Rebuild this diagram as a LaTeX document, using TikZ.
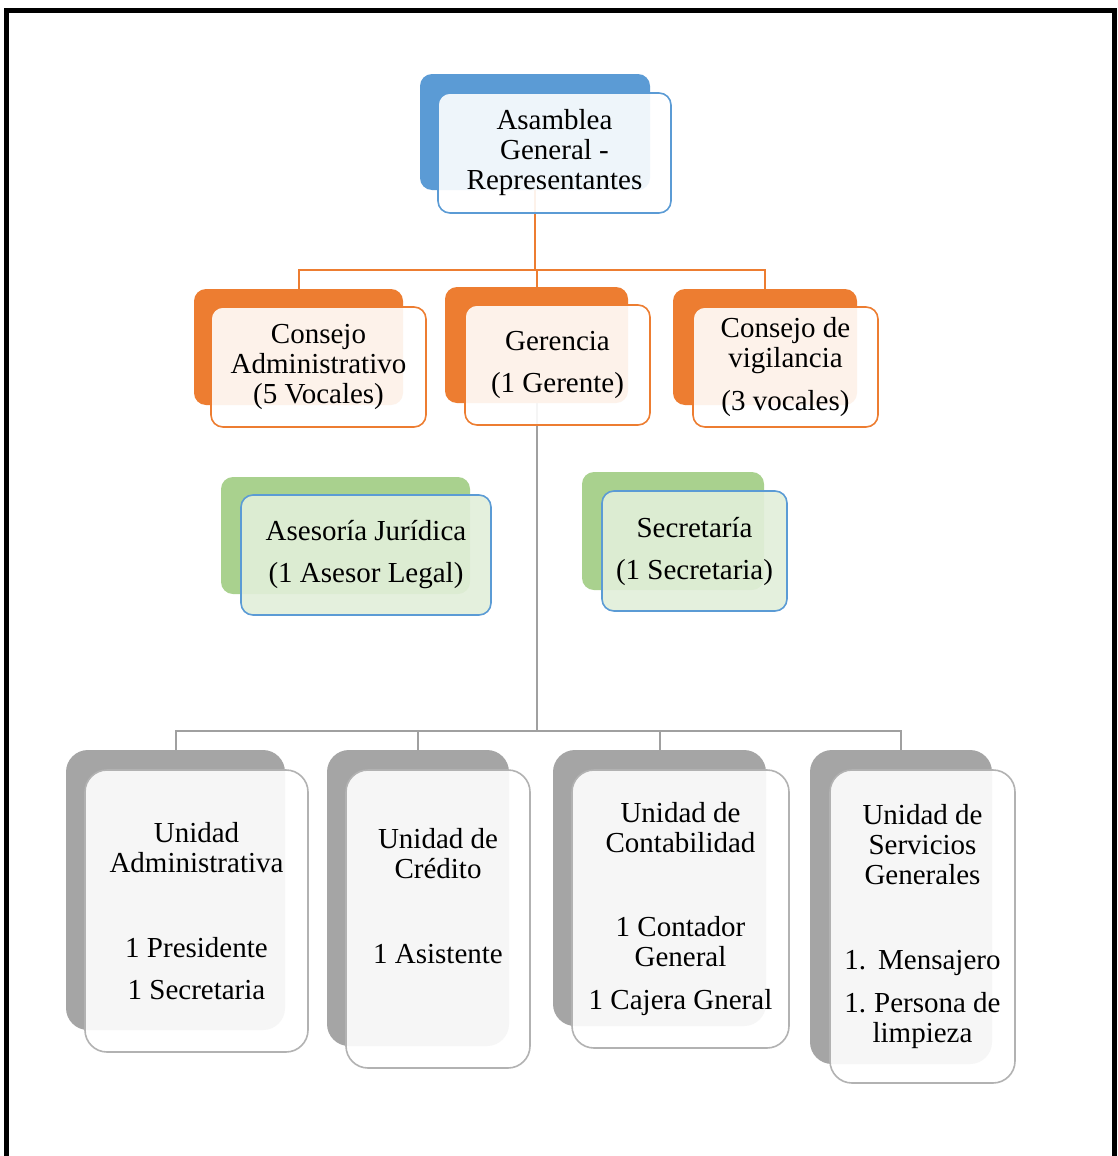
\documentclass[tikz,border=0pt]{standalone}
\usepackage{fontspec}
\setmainfont{Liberation Serif}
\usetikzlibrary{backgrounds}
\definecolor{cblue}{HTML}{5B9BD5}
\definecolor{corange}{HTML}{ED7D31}
\definecolor{cgreen}{HTML}{A9D18E}
\definecolor{cgreenlt}{HTML}{E2EFDA}
\definecolor{cgray}{HTML}{A5A5A5}
\definecolor{cgrayline}{HTML}{A0A0A0}
\tikzset{
  every node/.style={inner sep=0pt, align=center, font=\fontsize{29}{30}\selectfont},
  backbox/.style={rectangle, rounded corners=12pt, draw=none},
  frontbox/.style={rectangle, rounded corners=12pt, line width=1.6pt, fill=white, fill opacity=0.9, text opacity=1},
  tallback/.style={backbox, rounded corners=22pt},
  tallfront/.style={frontbox, rounded corners=22pt},
  blueback/.style={backbox, fill=cblue},
  bluefront/.style={frontbox, draw=cblue},
  orangeback/.style={backbox, fill=corange},
  orangefront/.style={frontbox, draw=corange},
  greenback/.style={backbox, fill=cgreen},
  greenfront/.style={frontbox, draw=cblue, fill=cgreenlt},
  grayback/.style={tallback, fill=cgray},
  grayfront/.style={tallfront, draw=cgray!85},
  orangeline/.style={draw=corange, line width=2pt},
  grayline/.style={draw=cgrayline, line width=2pt},
}
\begin{document}
\begin{tikzpicture}[x=1pt, y=-1pt]
\useasboundingbox (0,0) rectangle (1118,1156);

% outer frame, open at the bottom
\draw[line width=5pt] (6,1170) -- (6,11) -- (1114,11) -- (1114,1170);

% top level
\node[blueback, minimum width=230pt, minimum height=116pt] (asm-b) at (535,132) {};
\node[bluefront, minimum width=233pt, minimum height=120pt] (asm) at (554.5,153)
  {Asamblea\\General -\\Representantes};

% second level
\node[orangeback, minimum width=209pt, minimum height=116pt] (cad-b) at (298.5,347) {};
\node[orangefront, minimum width=215pt, minimum height=120pt] (cad) at (318.5,367)
  {Consejo\\Administrativo\\(5 Vocales)};

\node[orangeback, minimum width=183pt, minimum height=116pt] (ger-b) at (536.5,345) {};
\node[orangefront, minimum width=185pt, minimum height=120pt] (ger) at (557.5,365)
  {Gerencia\\[12pt](1 Gerente)};

\node[orangeback, minimum width=184pt, minimum height=116pt] (vig-b) at (765,347) {};
\node[orangefront, minimum width=185pt, minimum height=120pt] (vig) at (785.5,367)
  {Consejo de\\vigilancia\\[13pt](3 vocales)};

% staff units
\node[greenback, minimum width=249pt, minimum height=117pt] (ase-b) at (345.5,535.5) {};
\node[greenfront, minimum width=250pt, minimum height=120pt] (ase) at (366,555)
  {Asesoría Jurídica\\[12pt](1 Asesor Legal)};

\node[greenback, minimum width=182pt, minimum height=118pt] (sec-b) at (673,531) {};
\node[greenfront, minimum width=185pt, minimum height=120pt] (sec) at (694.5,551)
  {Secretaría\\[12pt](1 Secretaria)};

% operating units
\node[grayback, minimum width=219pt, minimum height=280pt] (uad-b) at (175.5,890) {};
\node[grayfront, minimum width=223pt, minimum height=282pt] (uad) at (196.5,911)
  {Unidad\\Administrativa\\[55pt]1 Presidente\\[12pt]1 Secretaria};

\node[grayback, minimum width=182pt, minimum height=296pt] (ucr-b) at (418,898) {};
\node[grayfront, minimum width=184pt, minimum height=298pt] (ucr) at (438,919)
  {Unidad de\\Crédito\\[55pt]1 Asistente\\[17pt]\mbox{}};

\node[grayback, minimum width=213pt, minimum height=276pt] (uco-b) at (659.5,888) {};
\node[grayfront, minimum width=217pt, minimum height=278pt] (uco) at (680.5,909)
  {Unidad de\\Contabilidad\\[54pt]1 Contador\\General\\[13pt]1 Cajera Gneral};

\node[grayback, minimum width=182pt, minimum height=314pt] (usg-b) at (901,907) {};
\node[grayfront, minimum width=185pt, minimum height=313pt] (usg) at (922.5,926.5)
  {Unidad de\\Servicios\\Generales\\[55pt]1.\hspace{12pt}Mensajero\\[13pt]1.\hspace{8pt}Persona de\\limpieza};

% connectors, behind the boxes
\begin{scope}[on background layer]
  \fill[white] (0,0) rectangle (1118,1156);
  \draw[orangeline] (asm-b.south) -- ++(0,80) -| (cad-b.north);
  \draw[orangeline] (asm-b.south) -- ++(0,80) -| (ger-b.north);
  \draw[orangeline] (asm-b.south) -- ++(0,80) -| (vig-b.north);
  \draw[grayline] (ger-b.south) -- ++(0,328) -| (uad-b.north);
  \draw[grayline] (ger-b.south) -- ++(0,328) -| (ucr-b.north);
  \draw[grayline] (ger-b.south) -- ++(0,328) -| (uco-b.north);
  \draw[grayline] (ger-b.south) -- ++(0,328) -| (usg-b.north);
\end{scope}
\end{tikzpicture}
\end{document}
